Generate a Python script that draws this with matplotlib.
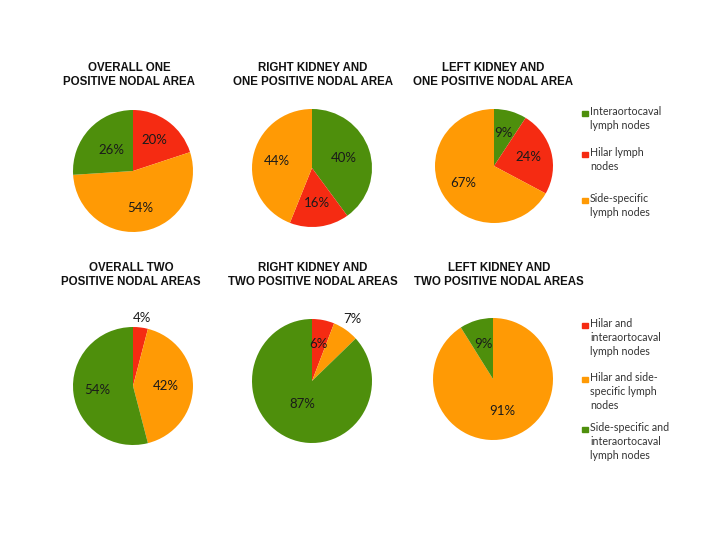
import matplotlib
matplotlib.use('Agg')
import matplotlib.pyplot as plt
import numpy as np

# categories
one_labels = ['Interaortocaval\nlymph nodes', 'Hilar lymph\nnodes', 'Side-specific\nlymph nodes']
two_labels = ['Hilar and\ninteraortocaval\nlymph nodes', 'Hilar and side-\nspecific lymph\nnodes',
              'Side-specific and\ninteraortocaval\nlymph nodes']
one_colors = ['#4E8F0C', '#F52B12', '#FF9A05']
two_colors = ['#F52B12', '#FF9A05', '#4E8F0C']

# values (%)
overall_one = [26, 20, 54]
right_one = [40, 16, 44]
left_one = [9, 24, 67]
overall_two = [4, 42, 54]
right_two = [6, 7, 87]
left_two = [0, 91, 9]

titles = ['OVERALL ONE\nPOSITIVE NODAL AREA', 'RIGHT KIDNEY AND\nONE POSITIVE NODAL AREA',
          'LEFT KIDNEY AND\nONE POSITIVE NODAL AREA',
          'OVERALL TWO\nPOSITIVE NODAL AREAS', 'RIGHT KIDNEY AND\nTWO POSITIVE NODAL AREAS',
          'LEFT KIDNEY AND\nTWO POSITIVE NODAL AREAS']
data = [overall_one, right_one, left_one, overall_two, right_two, left_two]
colsets = [one_colors] * 3 + [two_colors] * 3
first = [1, 0, 0, 0, 0, 0]          # slice that starts at 12 o'clock
# label distance per slice (fraction of radius), outside labels > 1
dists = [[0.62, 0.62, 0.5], [0.55, 0.6, 0.6], [0.6, 0.6, 0.6],
         [1.17, 0.55, 0.6], [0.6, 1.2, 0.4], [0.6, 0.55, 0.6]]

# pie placement in pixels: cx, cy, rx, ry
boxes = [(133, 171, 60, 61), (312, 168, 60, 59), (494, 166, 59, 57),
         (133, 386, 60, 59), (312, 381, 60, 62), (493, 379, 60, 61)]
title_x = [129, 313, 493, 131, 313, 499]
W, H = 720, 540

fig = plt.figure(figsize=(7.2, 5.4), dpi=100)
fig.patch.set_facecolor('white')
tfont = ['Liberation Sans', 'DejaVu Sans']
pfont = 'Lato'

for i in range(6):
    cx, cy, rx, ry = boxes[i]
    ax = fig.add_axes([(cx - rx) / W, 1 - (cy + ry) / H, 2 * rx / W, 2 * ry / H])
    vals = data[i][first[i]:] + data[i][:first[i]]
    cols = colsets[i][first[i]:] + colsets[i][:first[i]]
    wedges, _ = ax.pie(vals, colors=cols, startangle=90, counterclock=False,
                       wedgeprops=dict(linewidth=0))
    ax.set_aspect('auto')
    ax.set_xlim(-1, 1)
    ax.set_ylim(-1, 1)
    ax.axis('off')
    for w, v, d in zip(wedges, vals, dists[i]):
        if v == 0:
            continue
        ang = np.deg2rad((w.theta1 + w.theta2) / 2)
        ax.text(d * np.cos(ang), d * np.sin(ang), '%d%%' % v, ha='center', va='center',
                fontsize=9.5, family=pfont, color='#1a1a1a', clip_on=False)
    ty = 1 - (75 if i < 3 else 275) / H
    fig.text(title_x[i] / W, ty, titles[i], ha='center', va='center', fontsize=8.3,
             fontweight='bold', family=tfont, linespacing=1.15, color='#111111')

# legends
def legend(labels, colors, x, ys):
    for lab, c, y in zip(labels, colors, ys):
        fig.patches.append(plt.Rectangle((x / W, 1 - (y + 3) / H), 5.5 / W, 5.5 / H,
                                         transform=fig.transFigure, color=c))
        fig.text((x + 8) / W, 1 - (y - 7) / H, lab, ha='left', va='top', fontsize=7.7,
                 family=pfont, color='#333333', linespacing=1.35)

legend(one_labels, one_colors, 582, [113, 154, 200])
legend(two_labels, two_colors, 582, [325, 379, 429])

fig.savefig('out.png', dpi=100)
